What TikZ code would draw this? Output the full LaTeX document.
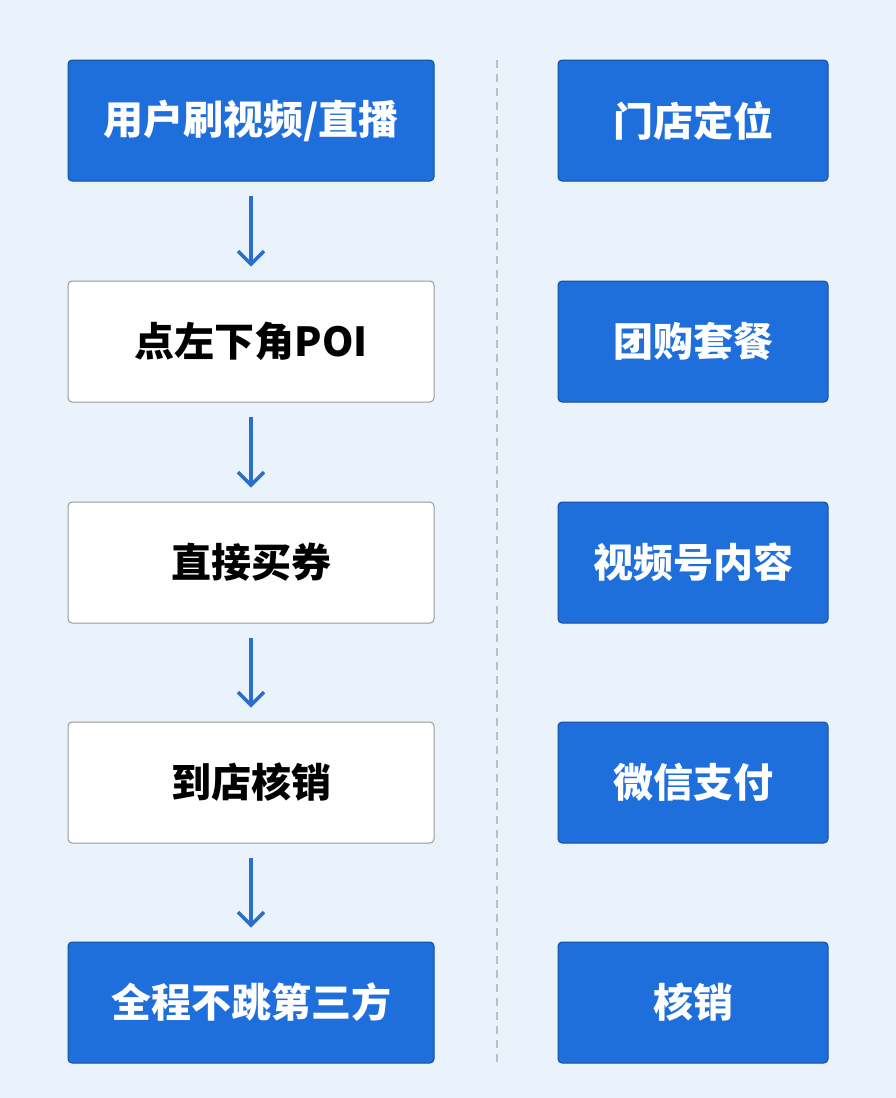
\documentclass[tikz,border=0pt]{standalone}
\usepackage{fontspec}
\setmainfont{Noto Sans CJK SC}
\usetikzlibrary{arrows.meta}
\definecolor{bg}{HTML}{EAF3FC}
\definecolor{bl}{HTML}{1E6FDC}
\definecolor{ar}{HTML}{2A6FC9}
\begin{document}
\begin{tikzpicture}[x=1pt,y=-1pt,
 bbox/.style={draw=bl!70!black,line width=1pt,fill=bl,text=white,rounded corners=4pt,minimum height=121pt,font=\fontsize{40}{42}\selectfont\bfseries},
 wbox/.style={draw=black!40,line width=1pt,fill=white,text=black,rounded corners=4pt,minimum height=121pt,minimum width=366pt,font=\fontsize{40}{42}\selectfont\bfseries},
 lw/.style={minimum width=366pt},
 rw/.style={minimum width=270pt},
 arr/.style={draw=ar,line width=3.5pt,-{Straight Barb[length=13pt,width=26pt]}}]
\fill[bg] (0,0) rectangle (896,1098);
\draw[black!25,line width=1.5pt,dash pattern=on 8pt off 6pt] (497,60) -- (497,1062);
\node[bbox,lw] (l1) at (251,120.5) {用户刷视频/直播};
\node[wbox] (l2) at (251,341.5) {点左下角POI};
\node[wbox] (l3) at (251,562.5) {直接买券};
\node[wbox] (l4) at (251,782.5) {到店核销};
\node[bbox,lw] (l5) at (251,1002.5) {全程不跳第三方};
\node[bbox,rw] (r1) at (693,120.5) {门店定位};
\node[bbox,rw] (r2) at (693,341.5) {团购套餐};
\node[bbox,rw] (r3) at (693,562.5) {视频号内容};
\node[bbox,rw] (r4) at (693,782.5) {微信支付};
\node[bbox,rw] (r5) at (693,1002.5) {核销};
\foreach \a/\b in {l1/l2,l2/l3,l3/l4,l4/l5}
  \draw[arr] ([yshift=-14pt]\a.south) -- ([yshift=14pt]\b.north);
\end{tikzpicture}
\end{document}
